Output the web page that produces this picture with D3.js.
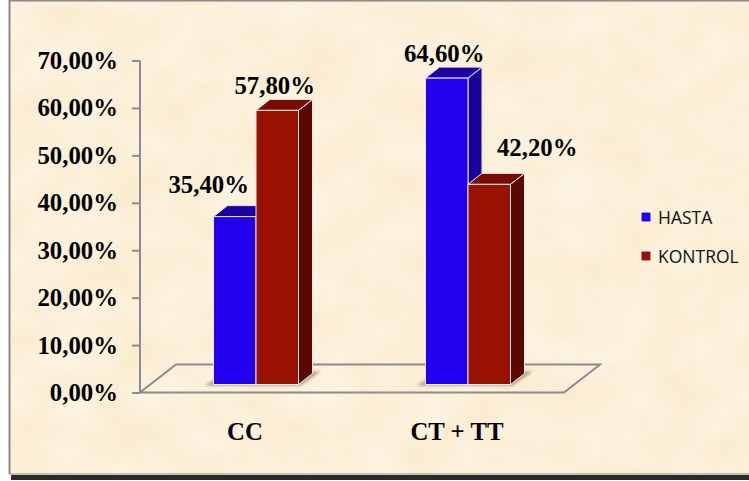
<!DOCTYPE html>
<html>
<head>
<meta charset="utf-8">
<script src="https://cdn.jsdelivr.net/npm/d3@7"></script>
<style>
  html, body { margin: 0; padding: 0; background: #fff; }
  svg { display: block; }
</style>
</head>
<body>
<svg id="chart" width="749" height="481"></svg>
<script>
// Chart values (percent)
const categories = ["CC", "CT + TT"];
const seriesNames = ["HASTA", "KONTROL"];
const hastaValues = [35.4, 64.6];
const kontrolValues = [57.8, 42.2];
const tickValues = [0, 10, 20, 30, 40, 50, 60, 70];

const comma = d3.formatLocale({ decimal: ",", thousands: ".", grouping: [3], currency: ["", ""] });
const fmt = v => comma.format(".2f")(v) + "%";

const serif = "'Liberation Serif', serif";
const palette = {
  HASTA:   { front: "#2200ee", top: "#1b00a6", side: "#1a009c" },
  KONTROL: { front: "#991100", top: "#770d00", side: "#5c0800" }
};

const svg = d3.select("#chart");
const defs = svg.append("defs");

// Mottled parchment backdrop
const paper = defs.append("filter").attr("id", "paper")
  .attr("x", 0).attr("y", 0).attr("width", "100%").attr("height", "100%")
  .attr("color-interpolation-filters", "sRGB");
paper.append("feTurbulence").attr("type", "fractalNoise")
  .attr("baseFrequency", "0.02 0.024").attr("numOctaves", 4).attr("seed", 11);
paper.append("feColorMatrix").attr("type", "matrix").attr("values",
  "0.015 0 0 0 0.978  0.045 0 0 0 0.918  0.11 0 0 0 0.795  0 0 0 0 1");

const soft = defs.append("filter").attr("id", "soft")
  .attr("x", "-30%").attr("y", "-30%").attr("width", "160%").attr("height", "160%");
soft.append("feGaussianBlur").attr("stdDeviation", 1.6);

// Slide panel with its drop edge
svg.append("rect").attr("x", 11).attr("y", 6).attr("width", 738).attr("height", 474).attr("fill", "#2b2b2b");
svg.append("rect").attr("x", 9).attr("y", 0).attr("width", 741).attr("height", 474.5)
  .attr("fill", "#fbf0d9").attr("filter", "url(#paper)");
svg.append("path").attr("d", "M9.5,474V0.5H749").attr("fill", "none").attr("stroke", "#8a8a8a").attr("stroke-width", 2);
svg.append("line").attr("x1", 9).attr("x2", 749).attr("y1", 474).attr("y2", 474).attr("stroke", "#8f8f8f").attr("stroke-width", 1);

// Scales
const x = d3.scaleBand().domain(categories).range([140, 564]);
const y = d3.scaleLinear().domain([0, 70]).range([392.5, 60.5]);
const groupW = 85;
const bar = d3.scaleBand().domain(seriesNames).range([0, groupW]);

// Oblique projection used for the floor and the bar depth
const depth = { dx: 14, dy: -11 };
const floorDepth = { dx: 36, dy: -28 };
const baseLift = 8;          // bars stand this far behind the front floor edge
const groupShift = (x.bandwidth() - groupW) / 2 + 10;

// Floor outline
const x0 = x.range()[0], x1 = x.range()[1], y0 = y(0);
svg.append("path")
  .attr("d", `M${x0},${y0}L${x1},${y0}L${x1 + floorDepth.dx},${y0 + floorDepth.dy}L${x0 + floorDepth.dx},${y0 + floorDepth.dy}Z`)
  .attr("fill", "none").attr("stroke", "#8c8c8c").attr("stroke-width", 2);

// Value axis
const axis = svg.append("g").attr("transform", `translate(${x0},0)`)
  .call(d3.axisLeft(y).tickValues(tickValues).tickSize(8).tickPadding(14).tickFormat(fmt));
axis.selectAll("path, line").attr("stroke", "#8c8c8c").attr("stroke-width", 2);
axis.select(".domain").attr("d", `M0,${y(70)}V${y(0)}`);
axis.selectAll("text")
  .attr("font-family", serif).attr("font-weight", "bold").attr("font-size", 24.8).attr("fill", "#000");

// Bars, one record per drawn column
const rows = categories.flatMap((c, i) => [
  { cat: c, name: "HASTA", value: hastaValues[i] },
  { cat: c, name: "KONTROL", value: kontrolValues[i] }
]);
const barLeft = d => x(d.cat) + groupShift + bar(d.name);
const barRight = d => barLeft(d) + bar.bandwidth();
const barTop = d => y(d.value) - baseLift;
const base = y(0) - baseLift;

// Soft shadows on the floor, one per group
svg.append("g").selectAll("path").data(categories).join("path")
  .attr("d", c => {
    const l = x(c) + groupShift, r = l + groupW;
    return `M${l - 9},${base + 1}H${r + 2}L${r + 22},${base - 13}H${r + 10}L${r},${base - 4}H${l}Z`;
  })
  .attr("fill", "#8d8570").attr("opacity", 0.75).attr("filter", "url(#soft)");

const cols = svg.append("g").selectAll("g").data(rows).join("g");
const edge = "#ece8f6";

cols.append("path") // side face
  .attr("d", d => `M${barRight(d)},${barTop(d)}L${barRight(d) + depth.dx},${barTop(d) + depth.dy}V${base + depth.dy}L${barRight(d)},${base}Z`)
  .attr("fill", d => palette[d.name].side).attr("stroke", edge).attr("stroke-width", 1);
cols.append("path") // top face
  .attr("d", d => `M${barLeft(d)},${barTop(d)}L${barLeft(d) + depth.dx},${barTop(d) + depth.dy}H${barRight(d) + depth.dx}L${barRight(d)},${barTop(d)}Z`)
  .attr("fill", d => palette[d.name].top).attr("stroke", edge).attr("stroke-width", 1);
cols.append("rect") // front face
  .attr("x", barLeft).attr("y", barTop)
  .attr("width", bar.bandwidth()).attr("height", d => base - barTop(d))
  .attr("fill", d => palette[d.name].front).attr("stroke", edge).attr("stroke-width", 1);

// Value labels, each nudged clear of its neighbouring column
const labelNudge = { "CC|HASTA": [-26, -24], "CC|KONTROL": [-2.5, -16.5], "CT + TT|HASTA": [-2.5, -16.5], "CT + TT|KONTROL": [48, -28] };
svg.append("g").selectAll("text").data(rows).join("text")
  .attr("x", d => (barLeft(d) + barRight(d)) / 2 + labelNudge[d.cat + "|" + d.name][0])
  .attr("y", d => barTop(d) + labelNudge[d.cat + "|" + d.name][1])
  .attr("text-anchor", "middle")
  .attr("font-family", serif).attr("font-weight", "bold").attr("font-size", 24.8).attr("fill", "#000")
  .text(d => fmt(d.value));

// Category labels
svg.append("g").selectAll("text").data(categories).join("text")
  .attr("x", c => x(c) + x.bandwidth() / 2 - 1)
  .attr("y", 440)
  .attr("text-anchor", "middle")
  .attr("font-family", serif).attr("font-weight", "bold").attr("font-size", 24.8).attr("fill", "#000")
  .text(c => c);

// Legend
const legendY = d3.scalePoint().domain(seriesNames).range([217, 256]);
const legend = svg.append("g").selectAll("g").data(seriesNames).join("g")
  .attr("transform", n => `translate(641,${legendY(n)})`);
legend.append("rect").attr("x", 0).attr("y", -5).attr("width", 10).attr("height", 10)
  .attr("fill", n => palette[n].front).attr("stroke", "#fff").attr("stroke-width", 1);
legend.append("text").attr("x", 17).attr("y", 6.5)
  .attr("font-family", "'Open Sans', sans-serif").attr("font-size", 17.5).attr("fill", "#111")
  .text(n => n);
</script>
</body>
</html>
